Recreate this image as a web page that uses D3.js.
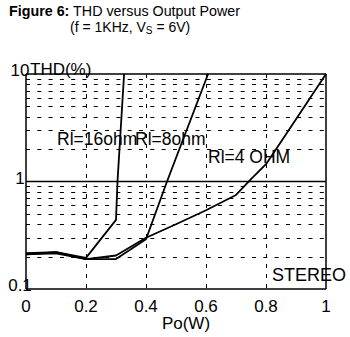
<!DOCTYPE html>
<html>
<head>
<meta charset="utf-8">
<script src="https://cdn.jsdelivr.net/npm/d3@7"></script>
<style>
  html, body { margin: 0; padding: 0; background: #fff; }
  svg { display: block; font-family: Arial, "Liberation Sans", sans-serif; }
</style>
</head>
<body>
<script>
// ---- data ----
const xTicks = [0, 0.2, 0.4, 0.6, 0.8, 1];
const xTickLabels = ["0", "0.2", "0.4", "0.6", "0.8", "1"];
const yTicks = [0.1, 1, 10];
const yTickLabels = ["0.1", "1", "10"];
const yMinor = [0.2, 0.3, 0.4, 0.5, 0.6, 0.7, 0.8, 0.9, 2, 3, 4, 5, 6, 7, 8, 9];
const xMinor = [0.2, 0.4, 0.6, 0.8];

const p16 = [0, 0.1, 0.2, 0.3, 0.305, 0.327];
const thd16 = [0.215, 0.22, 0.195, 0.44, 1.0, 10];
const p8 = [0, 0.1, 0.2, 0.3, 0.4, 0.47, 0.607];
const thd8 = [0.21, 0.215, 0.19, 0.19, 0.29, 1.0, 10];
const p4 = [0, 0.1, 0.2, 0.3, 0.4, 0.5, 0.6, 0.7, 0.75, 0.8, 0.9, 1.0];
const thd4 = [0.21, 0.22, 0.19, 0.205, 0.3, 0.4, 0.54, 0.75, 1.05, 1.45, 3.8, 10];

const seriesLabels = ["Rl=16ohm", "Rl=8ohm", "Rl=4 OHM"];

// ---- layout ----
const W = 350, H = 337;
const x = d3.scaleLinear().domain([0, 1]).range([26, 326]);
const y = d3.scaleLog().domain([0.1, 10]).range([289, 74]);

const svg = d3.select("body").append("svg").attr("width", W).attr("height", H);

// title
const t1 = svg.append("text").attr("x", 9).attr("y", 16).attr("font-size", 14.3);
t1.append("tspan").attr("font-weight", "bold").text("Figure 6:");
t1.append("tspan").text(" THD versus Output Power");
const t2 = svg.append("text").attr("x", 70).attr("y", 32).attr("font-size", 14);
t2.append("tspan").text("(f = 1KHz, V");
t2.append("tspan").attr("font-size", 10).attr("dy", 2).text("S");
t2.append("tspan").attr("dy", -2).text(" = 6V)");

// grid
const g = svg.append("g");
g.selectAll(".hm").data(yMinor).enter().append("line")
  .attr("x1", x(0)).attr("x2", x(1))
  .attr("y1", d => Math.round(y(d)) + 0.5).attr("y2", d => Math.round(y(d)) + 0.5)
  .attr("stroke", "#000").attr("stroke-width", 1).attr("stroke-dasharray", "4,7.3");
g.selectAll(".vm").data(xMinor).enter().append("line")
  .attr("y1", y(10)).attr("y2", y(0.1))
  .attr("x1", d => Math.round(x(d)) + 0.5).attr("x2", d => Math.round(x(d)) + 0.5)
  .attr("stroke", "#000").attr("stroke-width", 1).attr("stroke-dasharray", "4,6");
// solid lines
g.selectAll(".hs").data(yTicks).enter().append("line")
  .attr("x1", x(0)).attr("x2", x(1))
  .attr("y1", d => y(d)).attr("y2", d => y(d))
  .attr("stroke", "#000").attr("stroke-width", 1.5);
g.selectAll(".vs").data([0, 1]).enter().append("line")
  .attr("y1", y(10)).attr("y2", y(0.1))
  .attr("x1", d => x(d)).attr("x2", d => x(d))
  .attr("stroke", "#000").attr("stroke-width", 1.5);

// curves
const line = d3.line().x(d => x(d[0])).y(d => y(d[1]));
const curves = [
  d3.zip(p16, thd16),
  d3.zip(p8, thd8),
  d3.zip(p4, thd4)
];
svg.selectAll(".curve").data(curves).enter().append("path")
  .attr("d", line).attr("fill", "none").attr("stroke", "#000")
  .attr("stroke-width", 1.8).attr("stroke-linejoin", "round");

// tick labels
svg.selectAll(".xt").data(xTicks).enter().append("text")
  .attr("x", d => x(d)).attr("y", 312).attr("text-anchor", "middle")
  .attr("font-size", 17).text((d, i) => xTickLabels[i]);
svg.selectAll(".yt").data(yTicks).enter().append("text")
  .attr("x", 20).attr("y", d => y(d) + 2).attr("text-anchor", "middle")
  .attr("font-size", 17).text((d, i) => yTickLabels[i]);

// axis titles
svg.append("text").attr("x", 186).attr("y", 329).attr("text-anchor", "middle")
  .attr("font-size", 17).text("Po(W)");
svg.append("text").attr("x", 30).attr("y", 75).attr("font-size", 17).text("THD(%)");

// series labels
const labelPos = [[57, 145], [135, 145], [208, 163]];
svg.selectAll(".sl").data(seriesLabels).enter().append("text")
  .attr("x", (d, i) => labelPos[i][0]).attr("y", (d, i) => labelPos[i][1])
  .attr("font-size", 17.5).text(d => d);
svg.append("text").attr("x", 272).attr("y", 281).attr("font-size", 18).text("STEREO");
</script>
</body>
</html>
